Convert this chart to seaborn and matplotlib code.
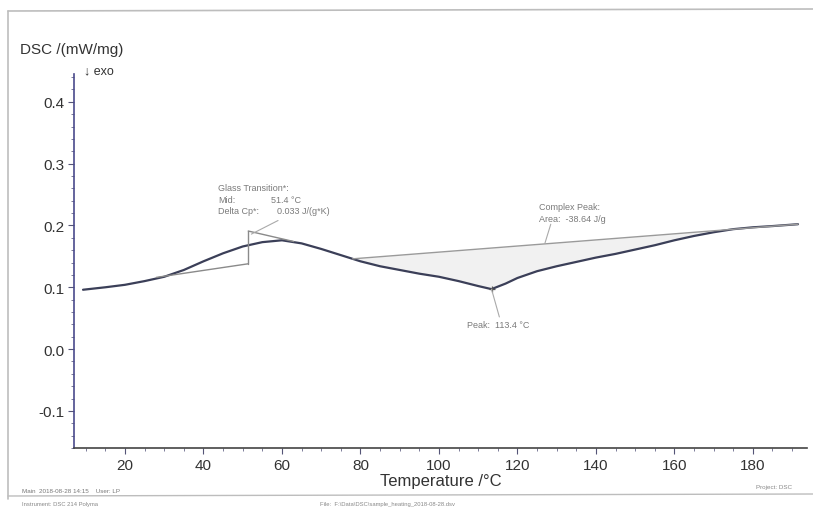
import numpy as np
import pandas as pd
import matplotlib
matplotlib.use("Agg")
import matplotlib.pyplot as plt
import seaborn as sns

# DSC heating curve
temperature = [9.3, 15, 20, 25, 30, 35, 40, 45, 50, 55, 60, 65, 70, 75, 80, 85, 90, 95,
               100, 105, 110, 113.4, 117, 120, 125, 130, 135, 140, 145, 150, 155, 160,
               165, 170, 175, 180, 185, 191.5]
dsc = [0.096, 0.100, 0.104, 0.110, 0.117, 0.128, 0.142, 0.155, 0.166, 0.173, 0.176,
       0.171, 0.162, 0.152, 0.142, 0.134, 0.128, 0.122, 0.117, 0.110, 0.102, 0.097,
       0.106, 0.115, 0.126, 0.134, 0.141, 0.148, 0.154, 0.161, 0.168, 0.176,
       0.183, 0.189, 0.194, 0.197, 0.199, 0.202]

# Glass transition evaluation
tg_mid = 51.4
tg_lower_t = [28.0, 51.4]
tg_lower_v = [0.116, 0.138]
tg_upper_t = [51.4, 63.0]
tg_upper_v = [0.191, 0.174]
tg_step = [0.138, 0.191]

# Complex peak evaluation
peak_base_t = [78.0, 191.5]
peak_t = 113.4

xticks = [20, 40, 60, 80, 100, 120, 140, 160, 180]
yticks = [-0.1, 0.0, 0.1, 0.2, 0.3, 0.4]

sns.set_theme(style="white")
plt.rcParams["font.family"] = ["Liberation Sans", "DejaVu Sans"]

fig = plt.figure(figsize=(8.13, 5.10), dpi=100)
ax = fig.add_axes([74 / 813, 61 / 510, 733 / 813, 374 / 510])

df = pd.DataFrame({"T": temperature, "DSC": dsc})
curve_color = "#3b3f58"
sns.lineplot(data=df, x="T", y="DSC", ax=ax, color=curve_color, lw=1.6)

# peak baseline and shaded area
bt = np.array(peak_base_t)
bv = np.interp(bt, temperature, dsc)
ax.plot(bt, bv, color="#9a9a9a", lw=1.0)
tt = np.linspace(bt[0], bt[1], 300)
ax.fill_between(tt, np.interp(tt, temperature, dsc), np.interp(tt, bt, bv),
                color="#f1f1f1", lw=0)

# glass transition construction
gray = "#8a8a8a"
ax.plot(tg_lower_t, tg_lower_v, color=gray, lw=1.0)
ax.plot(tg_upper_t, tg_upper_v, color=gray, lw=1.0)
ax.plot([tg_mid, tg_mid], tg_step, color=gray, lw=1.0)

txt = "#7a7a7a"
ax.text(43.8, 0.257, "Glass Transition*:", fontsize=6.5, color=txt)
ax.text(43.8, 0.238, "Mid:", fontsize=6.5, color=txt)
ax.text(57.2, 0.238, "51.4 °C", fontsize=6.5, color=txt)
ax.text(43.8, 0.220, "Delta Cp*:", fontsize=6.5, color=txt)
ax.text(58.8, 0.220, "0.033 J/(g*K)", fontsize=6.5, color=txt)
ax.plot([59.0, 52.2], [0.208, 0.186], color="#aaaaaa", lw=0.8)

ax.text(125.5, 0.226, "Complex Peak:", fontsize=6.5, color=txt)
ax.text(125.5, 0.207, "Area:  -38.64 J/g", fontsize=6.5, color=txt)
ax.plot([128.5, 127.0], [0.202, 0.171], color="#aaaaaa", lw=0.8)

pv = float(np.interp(peak_t, temperature, dsc))
ax.plot([peak_t], [pv], marker="+", color="#555555", ms=5, mew=0.9)
ax.plot([peak_t, peak_t + 2.0], [pv, 0.052], color="#aaaaaa", lw=0.8)
ax.text(107.2, 0.035, "Peak:  113.4 °C", fontsize=6.5, color=txt)

ax.set_xlim(7, 193.8)
ax.set_ylim(-0.16, 0.445)
ax.set_xticks(xticks)
ax.set_yticks(yticks)
ax.set_xticklabels([str(v) for v in xticks], fontsize=11, color="#333333")
ax.set_yticklabels([f"{v:.1f}" for v in yticks], fontsize=11, color="#333333")
ax.set_yticks(np.arange(-0.16, 0.445, 0.02), minor=True)
ax.set_xticks(np.arange(10, 194, 5), minor=True)
ax.tick_params(axis="both", which="major", length=4, width=0.8, color="#555577",
               left=True, bottom=True, pad=3)
ax.tick_params(axis="both", which="minor", length=2, width=0.6, color="#666688",
               left=True, bottom=True)
ax.set_xlabel("Temperature /°C", fontsize=12, color="#333333", labelpad=1)
ax.set_ylabel("")
sns.despine(ax=ax, top=True, right=True)
ax.spines["left"].set_color("#4a4a8c")
ax.spines["left"].set_linewidth(1.2)
ax.spines["bottom"].set_color("#444444")
ax.spines["bottom"].set_linewidth(1.2)

fig.text(20 / 813, 1 - 50 / 510, "DSC /(mW/mg)", fontsize=11, color="#333333",
         va="center", ha="left")
fig.text(84 / 813, 1 - 71 / 510, "↓ exo", fontsize=9, color="#333333",
         va="center", ha="left")

# page frame and footer
frame = "#bdbdbd"
fig.add_artist(plt.Line2D([8 / 813, 1.0], [1 - 12 / 510, 1 - 10 / 510],
                          color=frame, lw=1.2, transform=fig.transFigure))
fig.add_artist(plt.Line2D([8 / 813, 8 / 813], [1 - 12 / 510, 1 - 500 / 510],
                          color=frame, lw=1.2, transform=fig.transFigure))
fig.add_artist(plt.Line2D([8 / 813, 1.0], [1 - 497 / 510, 1 - 495 / 510],
                          color=frame, lw=1.0, transform=fig.transFigure))
fig.text(22 / 813, 1 - 492 / 510, "Main  2018-08-28 14:15    User: LP", fontsize=4.5,
         color="#777777", va="center")
fig.text(792 / 813, 1 - 488 / 510, "Project: DSC", fontsize=4.5, color="#888888",
         va="center", ha="right")
fig.text(22 / 813, 1 - 505 / 510, "Instrument: DSC 214 Polyma", fontsize=4.2,
         color="#888888", va="center")
fig.text(320 / 813, 1 - 505 / 510, "File:  F:\\Data\\DSC\\sample_heating_2018-08-28.dsv",
         fontsize=4.2, color="#888888", va="center")

fig.savefig("out.png", dpi=100)
